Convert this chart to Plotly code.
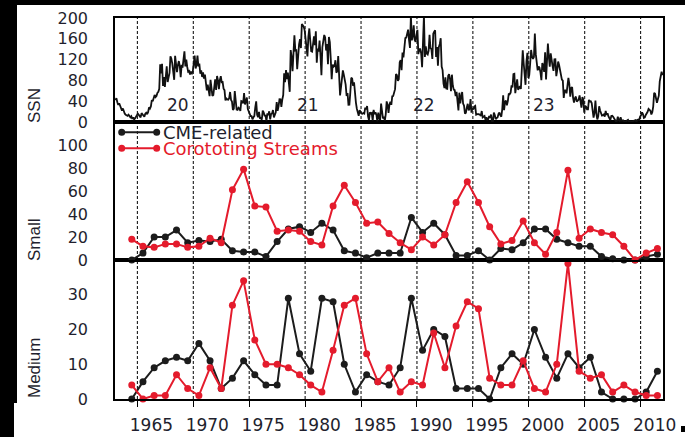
import plotly.graph_objects as go

# ---------------- data ----------------
years = list(range(1964, 2012))  # annual counts plotted at mid-year

small_cme = [0, 6, 20, 20, 26, 15, 17, 16, 18, 8, 7, 7, 3, 16, 27, 29, 24, 32, 26, 8,
             6, 2, 6, 6, 6, 37, 24, 32, 22, 4, 4, 8, 0, 10, 9, 15, 27, 27, 18, 15,
             12, 12, 3, 1, 0, 0, 3, 5]
small_cir = [18, 12, 11, 14, 14, 11, 12, 19, 15, 61, 79, 47, 46, 25, 26, 25, 16, 13, 47, 65,
             50, 32, 33, 23, 15, 9, 20, 13, 22, 50, 68, 50, 29, 14, 17, 34, 15, 5, 24, 78,
             19, 27, 24, 22, 12, 0, 6, 10]
medium_cme = [0, 5, 9, 11, 12, 11, 16, 11, 3, 6, 11, 7, 4, 4, 29, 13, 8, 29, 28, 10,
              2, 7, 5, 4, 9, 29, 14, 20, 18, 3, 3, 3, 0, 9, 13, 10, 20, 12, 6, 13,
              9, 12, 2, 0, 0, 0, 2, 8]
medium_cir = [4, 0, 1, 1, 7, 3, 1, 9, 3, 27, 34, 17, 10, 10, 9, 7, 4, 2, 14, 27,
              29, 13, 5, 9, 2, 5, 4, 19, 9, 21, 28, 26, 6, 4, 4, 11, 3, 2, 10, 39,
              8, 6, 7, 2, 4, 2, 1, 1]

ssn_start_year = 1963
ssn_monthly = [
    42, 46, 38, 33, 36, 30, 24, 22, 26, 20, 16, 14,
    13, 12, 14, 10, 9, 11, 6, 9, 5, 7, 9, 13,
    16, 13, 11, 9, 17, 14, 12, 10, 16, 18, 15, 19,
    28, 26, 30, 42, 40, 45, 52, 48, 50, 56, 58, 64,
    110.9, 93.6, 111.8, 69.5, 86.5, 67.3, 91.5, 107.2, 76.8, 88.2, 94.3, 126.4,
    121.8, 111.9, 92.2, 81.2, 127.2, 110.3, 96.1, 109.3, 117.2, 107.7, 86.0, 109.8,
    104.4, 120.5, 135.8, 106.8, 120.0, 106.0, 96.8, 98.0, 91.3, 95.7, 93.5, 97.9,
    111.5, 127.8, 102.9, 109.5, 127.5, 106.8, 112.5, 93.0, 99.5, 86.6, 95.2, 83.5,
    91.3, 79.0, 60.7, 71.8, 57.5, 49.8, 81.0, 61.4, 50.2, 51.7, 63.2, 82.2,
    61.5, 88.4, 80.1, 63.2, 80.5, 88.0, 76.5, 76.8, 64.0, 61.3, 41.6, 45.3,
    43.4, 42.9, 46.0, 57.7, 42.4, 39.5, 23.1, 25.6, 59.3, 30.7, 23.9, 23.3,
    27.6, 26.0, 21.3, 40.3, 39.5, 36.0, 55.8, 33.6, 40.2, 47.1, 25.0, 20.5,
    18.9, 11.5, 11.5, 5.1, 9.0, 11.4, 28.2, 39.7, 13.9, 9.1, 19.4, 7.8,
    8.1, 4.3, 21.9, 18.8, 12.4, 12.2, 1.9, 16.4, 13.5, 20.6, 5.2, 15.3,
    16.4, 23.1, 8.7, 12.9, 18.6, 38.5, 21.4, 30.1, 44.0, 43.8, 29.1, 43.2,
    51.9, 93.6, 76.5, 99.7, 82.7, 95.1, 70.4, 58.1, 138.2, 125.1, 97.9, 122.7,
    166.6, 137.5, 138.0, 101.5, 134.4, 149.5, 159.4, 142.2, 188.4, 186.2, 183.3, 176.3,
    159.6, 155.0, 126.2, 164.1, 179.9, 157.3, 136.3, 135.4, 155.0, 164.7, 147.9, 174.4,
    114.0, 141.3, 135.5, 156.4, 127.5, 90.0, 143.8, 158.7, 167.3, 162.4, 137.5, 150.1,
    111.2, 163.6, 153.8, 122.0, 82.2, 110.4, 106.1, 107.6, 118.8, 94.7, 98.1, 127.0,
    84.3, 51.0, 66.5, 80.7, 99.2, 91.1, 82.2, 71.8, 50.3, 55.8, 33.3, 33.4,
    57.0, 85.1, 83.5, 69.7, 76.4, 46.1, 37.4, 25.5, 15.7, 12.0, 22.8, 18.7,
    16.5, 15.9, 17.2, 16.2, 27.5, 24.2, 30.7, 11.1, 3.9, 18.6, 16.2, 17.3,
    2.5, 23.2, 15.1, 18.5, 13.7, 1.1, 18.1, 7.4, 3.8, 35.4, 15.2, 6.8,
    10.4, 2.4, 14.7, 39.6, 33.0, 17.4, 33.9, 38.8, 33.0, 49.6, 50.0, 56.6,
    63.2, 92.2, 90.1, 79.1, 82.4, 115.1, 118.9, 99.6, 133.8, 124.3, 141.6, 161.3,
    162.2, 169.9, 177.7, 157.4, 142.5, 205.0, 157.0, 165.1, 186.0, 158.0, 154.2, 166.9,
    177.3, 130.5, 140.3, 140.3, 132.2, 105.4, 149.4, 205.0, 125.2, 145.5, 131.4, 129.7,
    136.9, 167.5, 141.9, 140.0, 121.3, 169.7, 173.7, 176.3, 125.3, 144.1, 108.2, 144.4,
    150.0, 161.1, 106.7, 99.8, 73.8, 65.2, 85.7, 64.5, 63.9, 88.7, 91.8, 82.6,
    59.3, 91.0, 69.8, 62.2, 61.3, 49.8, 57.9, 42.2, 22.4, 56.4, 35.6, 48.9,
    57.8, 35.5, 31.7, 16.1, 17.8, 28.0, 35.1, 22.5, 25.7, 44.0, 18.0, 26.2,
    24.2, 29.9, 31.1, 14.0, 14.5, 15.6, 14.5, 14.3, 11.8, 21.1, 9.0, 10.0,
    11.5, 4.4, 9.2, 4.8, 5.5, 11.8, 8.2, 14.4, 1.6, 0.9, 17.9, 13.3,
    5.7, 7.6, 8.7, 15.5, 18.5, 12.7, 10.4, 24.4, 51.3, 22.8, 39.0, 41.2,
    31.9, 40.3, 54.8, 53.4, 56.3, 70.7, 66.6, 92.2, 92.9, 55.5, 74.0, 81.9,
    62.0, 66.3, 68.8, 63.7, 106.4, 137.7, 113.5, 93.7, 71.5, 116.7, 133.2, 84.6,
    90.1, 112.9, 138.5, 125.5, 121.6, 124.9, 170.1, 130.5, 109.7, 99.4, 106.8, 104.4,
    95.6, 80.6, 113.5, 107.7, 96.6, 134.0, 81.8, 106.4, 150.7, 125.5, 106.5, 132.2,
    114.1, 107.4, 98.4, 120.7, 120.8, 88.3, 99.6, 116.4, 109.6, 97.5, 95.0, 81.6,
    79.5, 46.2, 61.5, 60.0, 55.2, 77.4, 85.0, 72.7, 48.8, 65.6, 67.2, 47.0,
    37.2, 46.0, 48.9, 39.3, 41.5, 43.2, 51.1, 40.9, 27.7, 48.0, 43.5, 17.9,
    31.3, 29.2, 24.5, 24.4, 42.6, 39.6, 39.9, 36.4, 22.1, 8.5, 18.0, 41.2,
    15.4, 5.0, 10.8, 30.2, 22.2, 13.9, 12.2, 12.9, 14.4, 10.5, 21.4, 13.6,
    16.9, 10.6, 4.8, 3.7, 11.7, 12.0, 10.0, 6.2, 2.4, 0.9, 1.7, 10.1,
    3.4, 2.1, 9.3, 2.9, 2.9, 3.1, 0.5, 0.5, 1.1, 2.9, 4.1, 0.8,
    1.5, 1.4, 0.7, 1.2, 2.9, 2.6, 3.5, 0.0, 4.4, 4.6, 4.2, 10.6,
    13.1, 18.6, 15.4, 7.9, 8.8, 13.5, 16.1, 19.6, 25.2, 23.5, 21.6, 14.5,
    19.0, 29.4, 56.2, 54.4, 41.6, 37.0, 43.9, 50.6, 78.0, 88.0, 96.7, 90.0,
]

cycle_labels = ["20", "21", "22", "23"]
cycle_label_x = [1968.6, 1980.3, 1990.6, 2001.4]
cycle_label_y = 32

year_ticks = list(range(1965, 2011, 5))
series_names = ["CME-related", "Corototing Streams"]

# ---------------- styling ----------------
BLACK = "#1c1c1c"
RED = "#e41b2c"
TXT = "#1f1f2e"
TICKFONT = dict(family="DejaVu Sans", size=16, color=TXT)

x_mid = [y + 0.5 for y in years]
ssn_x = [ssn_start_year + (i + 0.5) / 12 for i in range(len(ssn_monthly))]

fig = go.Figure()

# top: SSN
fig.add_trace(go.Scatter(x=ssn_x, y=ssn_monthly, mode="lines", xaxis="x3", yaxis="y3",
                         line=dict(color="#111111", width=1.8), showlegend=False,
                         hoverinfo="skip"))
# middle: small
for vals, col, nm in [(small_cme, BLACK, series_names[0]), (small_cir, RED, series_names[1])]:
    fig.add_trace(go.Scatter(x=x_mid, y=vals, mode="lines+markers", xaxis="x2", yaxis="y2",
                             name=nm, line=dict(color=col, width=2),
                             marker=dict(color=col, size=7), showlegend=False, cliponaxis=False))
# bottom: medium
for vals, col, nm in [(medium_cme, BLACK, series_names[0]), (medium_cir, RED, series_names[1])]:
    fig.add_trace(go.Scatter(x=x_mid, y=vals, mode="lines+markers", xaxis="x", yaxis="y",
                             name=nm, line=dict(color=col, width=2),
                             marker=dict(color=col, size=7), showlegend=False, cliponaxis=False))

XR = [1963, 2012]
D_BOT = [0, 0.3648]
D_MID = [0.3648, 0.7270]
D_TOP = [0.7270, 1.0]

axline = dict(showline=True, linecolor="black", linewidth=1.6, mirror=True,
              showgrid=False, zeroline=False, automargin=False)

fig.update_layout(
    width=685, height=437,
    margin=dict(l=115, r=22, t=18, b=38),
    paper_bgcolor="white", plot_bgcolor="white",
    template="none",
    showlegend=False,
    xaxis=dict(domain=[0, 1], range=XR, anchor="y", tickmode="array", tickvals=year_ticks,
               ticks="outside", ticklen=6, tickwidth=1.4, tickcolor="black",
               tickfont=dict(family="DejaVu Sans", size=17, color=TXT),
               ticklabelshift=14, ticklabelstandoff=4, **axline),
    xaxis2=dict(domain=[0, 1], range=XR, anchor="y2", matches="x", showticklabels=False,
                ticks="", **axline),
    xaxis3=dict(domain=[0, 1], range=XR, anchor="y3", matches="x", showticklabels=False,
                ticks="", **axline),
    xaxis4=dict(range=XR, overlaying="x3", side="top", anchor="y3", tickmode="linear",
                tick0=1965, dtick=5, ticks="outside", ticklen=6, tickwidth=1.4,
                tickcolor="black", showticklabels=False, showgrid=False, zeroline=False,
                showline=False, automargin=False,
                minor=dict(tick0=1963, dtick=1, ticks="outside", ticklen=3,
                           tickwidth=1.2, tickcolor="black", showgrid=False)),
    yaxis=dict(domain=D_BOT, range=[0, 40], anchor="x", tickvals=[0, 10, 20, 30],
               ticks="", tickfont=TICKFONT, ticklabelstandoff=22, **axline),
    yaxis2=dict(domain=D_MID, range=[0, 120], anchor="x2", tickvals=[0, 20, 40, 60, 80, 100],
                ticks="", tickfont=TICKFONT, ticklabelstandoff=22, **axline),
    yaxis3=dict(domain=D_TOP, range=[0, 200], anchor="x3",
                tickvals=[0, 40, 80, 120, 160, 200],
                ticks="", tickfont=TICKFONT, ticklabelstandoff=22, **axline),
    yaxis4=dict(range=[0, 40], overlaying="y", side="right", anchor="x",
                tickvals=[0, 10, 20, 30], ticks="outside", ticklen=8, tickwidth=1.4,
                tickcolor="black", showticklabels=False, showgrid=False, zeroline=False,
                showline=False, automargin=False),
    yaxis5=dict(range=[0, 120], overlaying="y2", side="right", anchor="x2",
                tickvals=[0, 20, 40, 60, 80, 100], ticks="outside", ticklen=8, tickwidth=1.4,
                tickcolor="black", showticklabels=False, showgrid=False, zeroline=False,
                showline=False, automargin=False),
    yaxis6=dict(range=[0, 200], overlaying="y3", side="right", anchor="x3",
                tickvals=[0, 40, 80, 120, 160, 200], ticks="outside", ticklen=8, tickwidth=1.4,
                tickcolor="black", showticklabels=False, showgrid=False, zeroline=False,
                showline=False, automargin=False),
)

shapes = []
# vertical dashed lines at the major year ticks through all panels
for yr in year_ticks:
    shapes.append(dict(type="line", xref="x", yref="paper", x0=yr, x1=yr, y0=0, y1=1,
                       line=dict(color="black", width=1, dash="3px,2px"), layer="below"))

# legend samples (middle panel, top-left)
def px2paper_x(px):
    return (px - 115) / 548.0

def py2paper_y(py):
    return (399 - py) / 381.0

for py, col in [(132.3, BLACK), (148.3, RED)]:
    yy = py2paper_y(py)
    shapes.append(dict(type="line", xref="paper", yref="paper",
                       x0=px2paper_x(121.7), x1=px2paper_x(156.7), y0=yy, y1=yy,
                       line=dict(color=col, width=2)))
    for pxc in (121.7, 156.7):
        shapes.append(dict(type="circle", xref="paper", yref="paper",
                           xsizemode="pixel", ysizemode="pixel",
                           xanchor=px2paper_x(pxc), yanchor=yy,
                           x0=-3.5, x1=3.5, y0=-3.5, y1=3.5,
                           fillcolor=col, line=dict(color=col, width=0)))

# black scan borders of the reference image
def black_rect(px0, px1, py0, py1):
    return dict(type="rect", xref="paper", yref="paper",
                x0=px2paper_x(px0), x1=px2paper_x(px1),
                y0=py2paper_y(py1), y1=py2paper_y(py0),
                fillcolor="black", line=dict(width=0), layer="above")

shapes.append(black_rect(0, 685, 0, 5))
shapes.append(black_rect(0, 17, 0, 403))
shapes.append(black_rect(0, 14, 403, 437))
shapes.append(black_rect(681, 685, 426, 432))

fig.update_layout(shapes=shapes)

annotations = []
for lab, xv in zip(cycle_labels, cycle_label_x):
    annotations.append(dict(text=lab, x=xv, y=cycle_label_y, xref="x3", yref="y3",
                            showarrow=False, xanchor="center", yanchor="middle",
                            font=dict(family="DejaVu Sans", size=17, color=TXT)))

for txt, py in [("SSN", 105), ("Small", 239), ("Medium", 368)]:
    annotations.append(dict(text=txt, x=px2paper_x(34), y=py2paper_y(py), xref="paper",
                            yref="paper", showarrow=False, textangle=-90,
                            xanchor="center", yanchor="middle",
                            font=dict(family="Liberation Sans", size=17, color=TXT)))

for txt, py, col in [(series_names[0], 132.3, TXT), (series_names[1], 148.3, RED)]:
    annotations.append(dict(text=txt, x=px2paper_x(162), y=py2paper_y(py), xref="paper",
                            yref="paper", showarrow=False, xanchor="left", yanchor="middle",
                            borderpad=0,
                            font=dict(family="DejaVu Sans", size=18, color=col)))

fig.update_layout(annotations=annotations)

fig.write_html("out.html",
               config={"displayModeBar": False},
               post_script="document.body.style.margin='0';document.body.style.overflow='hidden';")
